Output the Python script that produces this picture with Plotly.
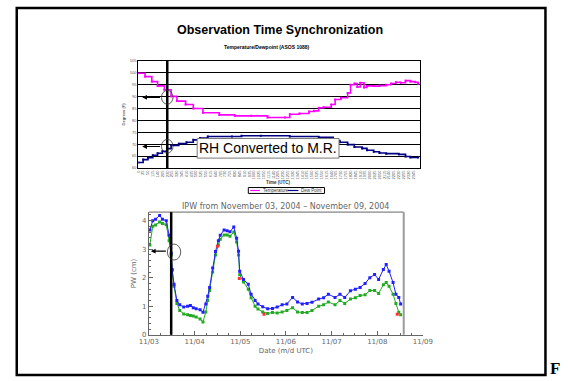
import plotly.graph_objects as go

W, H = 568, 381


def px(x):
    return x / W


def py(y):
    return 1 - y / H


# ---------------- top chart data (minutes UTC, deg F) ----------------
top_tick_minutes = list(range(0, 1450, 25))
top_tick_text = [str((m // 60) * 100 + m % 60) for m in top_tick_minutes]
top_y_ticks = [60, 65, 70, 75, 80, 85, 90, 95, 100, 105]

temp_minutes = [0, 35, 70, 100, 135, 170, 200, 245, 285, 335, 420, 500, 585, 670, 760,
                785, 835, 885, 910, 935, 960, 1000, 1020, 1050, 1085, 1100, 1120, 1135,
                1150, 1170, 1185, 1220, 1250, 1285, 1310, 1335, 1360, 1385, 1410, 1435, 1450]
temp_f = [99.8, 98.4, 96.3, 94.5, 92.9, 90.1, 88.1, 86.7, 85.0, 83.2, 82.3, 81.9, 81.9, 81.2, 81.2,
          82.6, 82.9, 83.7, 84.0, 85.3, 85.5, 86.7, 88.8, 89.5, 91.5, 95.0, 95.5, 94.0,
          95.8, 93.8, 94.5, 94.4, 94.6, 95.0, 95.5, 96.0, 95.8, 96.7, 96.3, 96.0, 95.4]

dew_minutes = [0, 25, 50, 75, 100, 125, 150, 170, 210, 250, 285, 320, 360, 485, 535, 635,
               785, 935, 1010, 1045, 1085, 1120, 1160, 1185, 1220, 1250, 1285, 1350, 1385,
               1410, 1450]
dew_f = [62.3, 63.5, 64.3, 65.3, 66.2, 67.0, 68.1, 69.5, 70.2, 70.8, 71.8, 72.6, 73.2, 73.2,
         73.5, 73.5, 73.2, 72.9, 71.5, 70.8, 69.8, 68.8, 68.2, 67.4, 66.8, 66.3, 66.0, 65.7,
         64.8, 64.4, 64.4]

# ---------------- bottom chart data (hours since 11/03 00 UTC, cm) ----------------
ipw_tick_hours = [0, 24, 48, 72, 96, 120, 144]
ipw_tick_text = ["11/03", "11/04", "11/05", "11/06", "11/07", "11/08", "11/09"]

ipw_hours = [0.5, 2.0, 3.5, 5.6, 7.1, 9.1, 10.6, 11.7, 12.2, 13.2, 14.7, 16.2, 18.3, 20.3,
             21.8, 23.3, 24.8, 26.9, 28.4, 29.9, 30.9, 31.9, 33.5, 35.0, 36.5, 37.5, 39.5,
             41.1, 42.6, 44.6, 46.1, 47.1, 47.7, 49.7, 52.2, 53.7, 55.8, 57.3, 59.8, 62.4,
             64.9, 67.4, 70.0, 72.5, 75.5, 78.1, 80.6, 83.1, 85.7, 89.2, 91.8, 94.3, 97.8,
             100.4, 102.9, 105.9, 108.5, 111.0, 113.6, 116.1, 118.6, 120.7, 123.2, 124.7,
             126.2, 128.3, 129.8, 131.3, 132.3]
ipw_blue_cm = [3.67, 4.0, 4.05, 4.18, 4.05, 4.0, 3.49, 2.86, 2.29, 1.77, 1.2, 1.05, 0.97, 1.0,
               1.03, 0.95, 0.91, 0.88, 0.79, 1.08, 1.35, 1.66, 2.34, 2.92, 3.3, 3.49, 3.67,
               3.65, 3.61, 3.78, 3.38, 2.93, 2.23, 1.94, 1.77, 1.42, 1.2, 1.08, 0.98, 0.91,
               0.92, 0.97, 1.05, 1.08, 1.31, 1.15, 1.08, 1.1, 1.14, 1.25, 1.3, 1.42, 1.31,
               1.42, 1.31, 1.54, 1.6, 1.66, 1.8, 2.0, 2.11, 1.94, 2.29, 2.46,
               2.23, 1.83, 1.42, 1.31, 1.08]
ipw_green_cm = [3.15, 3.8, 3.85, 3.95, 3.9, 3.86, 3.3, 2.8, 2.25, 1.7, 1.1, 0.85, 0.73, 0.7,
                0.68, 0.66, 0.62, 0.55, 0.45, 0.8, 1.2, 1.55, 2.2, 2.8, 3.15, 3.35, 3.5,
                3.5, 3.45, 3.6, 3.25, 2.8, 2.1, 1.85, 1.6, 1.3, 1.0, 0.9, 0.8, 0.75,
                0.78, 0.76, 0.8, 0.85, 0.95, 0.8, 0.78, 0.78, 0.85, 1.0, 1.05, 1.15, 1.05,
                1.2, 1.1, 1.25, 1.3, 1.38, 1.4, 1.55, 1.55, 1.45, 1.75, 1.83,
                1.7, 1.42, 1.1, 0.79, 0.7]
ipw_red_hours = [36.0, 47.5, 60.5, 130.5]
ipw_red_cm = [3.1, 1.97, 0.72, 0.72]

CM_PER_INCH = 2.54
IPW_TOP_CM = 4.3

fig = go.Figure()

# ---- top chart traces
fig.add_trace(go.Scatter(x=temp_minutes, y=temp_f, mode="lines+markers", line_shape="hv",
                         line=dict(color="#FF00FF", width=1.6),
                         marker=dict(color="#FF00FF", size=2, symbol="square"),
                         xaxis="x", yaxis="y", showlegend=False, name="Temperature"))
fig.add_trace(go.Scatter(x=dew_minutes, y=dew_f, mode="lines+markers", line_shape="hv",
                         line=dict(color="#000080", width=1.6),
                         marker=dict(color="#000080", size=2, symbol="square"),
                         xaxis="x", yaxis="y", showlegend=False, name="Dew Point"))

# ---- bottom chart traces
fig.add_trace(go.Scatter(x=ipw_hours, y=ipw_green_cm, mode="lines+markers",
                         line=dict(color="#22AA22", width=1),
                         marker=dict(color="#22AA22", size=3, symbol="square"),
                         xaxis="x2", yaxis="y3", showlegend=False))
fig.add_trace(go.Scatter(x=ipw_hours, y=ipw_blue_cm, mode="lines+markers",
                         line=dict(color="#2020FF", width=1),
                         marker=dict(color="#2020FF", size=3, symbol="square"),
                         xaxis="x2", yaxis="y3", showlegend=False))
fig.add_trace(go.Scatter(x=ipw_red_hours, y=ipw_red_cm, mode="markers",
                         marker=dict(color="#FF3030", size=3, symbol="square"),
                         xaxis="x2", yaxis="y3", showlegend=False))

gray = "#666666"
shapes = []
annotations = []

# outer slide border
shapes.append(dict(type="rect", xref="paper", yref="paper", x0=px(7), x1=px(555), y0=py(379), y1=py(5),
                   line=dict(color="black", width=2.5)))

# top chart: vertical black marker line
shapes.append(dict(type="line", xref="x", yref="y domain", x0=150, x1=150, y0=0, y1=1,
                   line=dict(color="black", width=2.5)))
# ellipses
shapes.append(dict(type="circle", xref="x", yref="y", x0=120, x1=180, y0=86.8, y1=92.6,
                   line=dict(color="#333333", width=0.8)))
shapes.append(dict(type="circle", xref="x", yref="y", x0=120, x1=180, y0=66.2, y1=72.0,
                   line=dict(color="#333333", width=0.8)))
# text box
shapes.append(dict(type="rect", xref="paper", yref="paper", x0=px(194), x1=px(341), y0=py(158), y1=py(138),
                   fillcolor="white", line=dict(color="#777777", width=1), layer="above"))
# legend box and samples
shapes.append(dict(type="rect", xref="paper", yref="paper", x0=px(247), x1=px(326), y0=py(194), y1=py(188),
                   fillcolor="white", line=dict(color="black", width=1)))
shapes.append(dict(type="line", xref="paper", yref="paper", x0=px(249), x1=px(259), y0=py(191), y1=py(191),
                   line=dict(color="#FF00FF", width=1.2)))
shapes.append(dict(type="line", xref="paper", yref="paper", x0=px(288), x1=px(299), y0=py(191), y1=py(191),
                   line=dict(color="#000080", width=1.2)))

# bottom chart: top frame, gray end line, black marker line, ellipse
shapes.append(dict(type="line", xref="x2", yref="y3 domain", x0=0, x1=133.9, y0=1, y1=1,
                   line=dict(color=gray, width=1)))
shapes.append(dict(type="line", xref="x2", yref="y3 domain", x0=133.9, x1=133.9, y0=0, y1=1,
                   line=dict(color="#9a9a9a", width=2)))
shapes.append(dict(type="line", xref="x2", yref="y3 domain", x0=11.7, x1=11.7, y0=0, y1=1,
                   line=dict(color="black", width=2.5)))
shapes.append(dict(type="circle", xref="x2", yref="y3", x0=9.7, x1=16.7, y0=2.62, y1=3.18,
                   line=dict(color="#333333", width=0.8)))

# arrows
arrow = dict(text="", showarrow=True, arrowhead=2, arrowsize=0.8, arrowwidth=1.2, arrowcolor="black")
annotations.append(dict(x=20, y=89.7, ax=120, ay=89.7, xref="x", yref="y", axref="x", ayref="y", **arrow))
annotations.append(dict(x=20, y=69.0, ax=120, ay=69.0, xref="x", yref="y", axref="x", ayref="y", **arrow))
annotations.append(dict(x=1.0, y=2.93, ax=9.7, ay=2.93, xref="x2", yref="y3", axref="x2", ayref="y3",
                        **arrow))


def label(text, x, y, size, color="black", family="Liberation Sans, Arial", xanchor="center"):
    return dict(text=text, x=px(x), y=py(y), xref="paper", yref="paper", xanchor=xanchor,
                yanchor="middle", showarrow=False, font=dict(family=family, size=size, color=color))


annotations += [
    label("<b>Observation Time Synchronization</b>", 280, 27, 12.5),
    label("<b>Temperature/Dewpoint (ASOS 1088)</b>", 266, 45, 5),
    label("RH Converted to M.R.", 267.5, 148, 14),
    label("<b>Time (UTC)</b>", 278, 183, 4.5, "#333333"),
    label("Temperature", 260, 191, 4.5, "#333333", xanchor="left"),
    label("Dew Point", 300, 191, 4.5, "#333333", xanchor="left"),
    label("IPW from November 03, 2004 \u2013 November 09, 2004", 286, 207, 8, gray, "DejaVu Sans"),
    label("<b>F</b>", 558, 372, 17, "black", "Liberation Serif", xanchor="left"),
]

small = dict(family="Liberation Sans, Arial", size=4, color="#555555")
ipw_font = dict(family="DejaVu Sans", size=7, color=gray)

fig.update_layout(
    width=W, height=H, margin=dict(l=0, r=0, t=0, b=0),
    paper_bgcolor="white", plot_bgcolor="rgba(0,0,0,0)",
    showlegend=False,
    xaxis=dict(domain=[px(133), px(425)], range=[0, 1460], tickmode="array",
               tickvals=top_tick_minutes, ticktext=top_tick_text, tickangle=-90,
               tickfont=small, showgrid=False, zeroline=False, showline=True,
               linecolor="black", linewidth=1, mirror=True, ticks="", anchor="y"),
    yaxis=dict(domain=[py(168), py(59)], range=[60, 105], tickmode="array", tickvals=top_y_ticks,
               tickfont=small, showgrid=True, gridcolor="black", gridwidth=1, zeroline=False,
               showline=True, linecolor="black", linewidth=1, mirror=True, ticks="",
               title=dict(text="<b>Degrees (F)</b>", font=small, standoff=4), anchor="x"),
    xaxis2=dict(domain=[px(144), px(428)], range=[0, 144], tickmode="array",
                tickvals=ipw_tick_hours, ticktext=ipw_tick_text, tickfont=ipw_font,
                showgrid=False, zeroline=False, showline=True, linecolor=gray, linewidth=1,
                ticks="inside", ticklen=4, tickcolor=gray,
                minor=dict(dtick=6, ticks="inside", ticklen=2, tickcolor=gray),
                title=dict(text="Date (m/d UTC)", font=ipw_font, standoff=2), anchor="y3"),
    yaxis3=dict(domain=[py(338), py(213)], range=[0, IPW_TOP_CM], tickmode="array",
                tickvals=[0, 1, 2, 3, 4], tickfont=ipw_font, showgrid=False, zeroline=False,
                showline=True, linecolor=gray, linewidth=1, ticks="inside", ticklen=4,
                tickcolor=gray, minor=dict(dtick=0.2, ticks="inside", ticklen=2, tickcolor=gray),
                title=dict(text="PW (cm)", font=ipw_font, standoff=4), anchor="x2"),
    yaxis4=dict(range=[0, IPW_TOP_CM / CM_PER_INCH], overlaying="y3", side="right", anchor="x2",
                tickmode="array", tickvals=[0, 0.5, 1.0, 1.5], ticktext=["0.0", "0.5", "1.0", "1.5"],
                tickfont=ipw_font, showgrid=False, zeroline=False, showline=True, linecolor=gray,
                linewidth=1, ticks="inside", ticklen=4, tickcolor=gray,
                minor=dict(dtick=0.1, ticks="inside", ticklen=2, tickcolor=gray),
                title=dict(text="PW (inches)", font=ipw_font, standoff=4)),
    shapes=shapes, annotations=annotations,
)

fig.write_html("out.html", config={"displayModeBar": False},
               post_script="document.body.style.margin='0px';"
                           "document.body.style.overflow='hidden';")
